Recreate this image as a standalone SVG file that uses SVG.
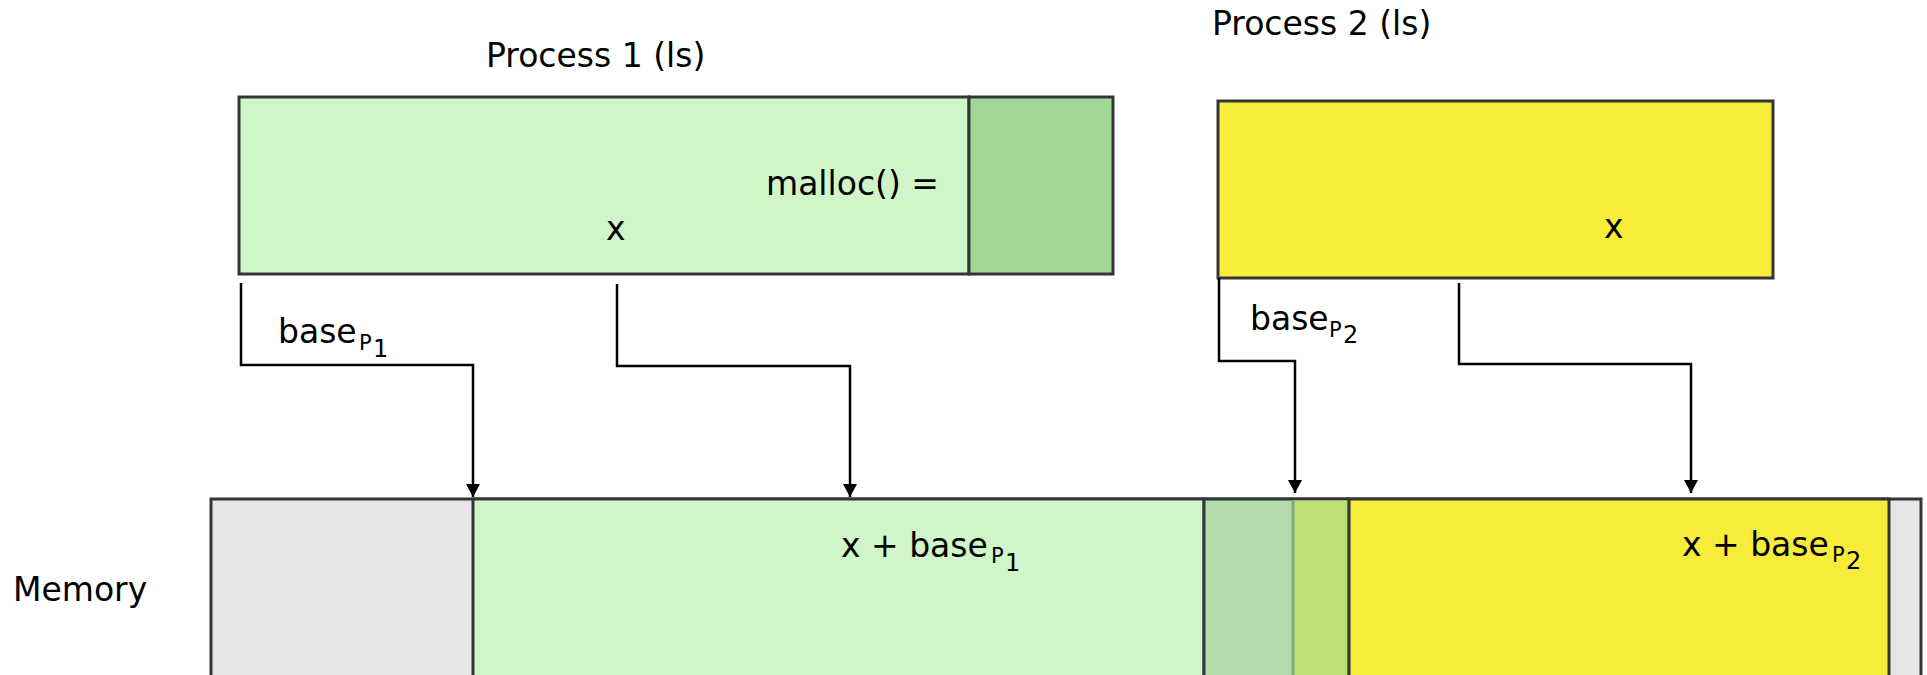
<svg xmlns="http://www.w3.org/2000/svg" width="1927" height="675" viewBox="0 0 1927 675">
<defs>
<style>
.t{font-family:"DejaVu Sans","Liberation Sans",sans-serif;font-size:33px;fill:#000}
.s1{font-size:21px}
.s2{font-size:24px}
.box{stroke:#333639;stroke-width:3}
.conn{fill:none;stroke:#000;stroke-width:2.5}
</style>
<marker id="ad" markerUnits="userSpaceOnUse" markerWidth="16" markerHeight="16" viewBox="0 0 16 16" refX="8" refY="14" orient="0">
<path d="M1 1 L15 1 L8 14 Z" fill="#000"/>
</marker>
</defs>
<rect width="1927" height="675" fill="#fff"/>

<g id="memory">
<rect class="box" x="211" y="499" width="1710" height="200" fill="#e6e6e6"/>
<rect x="473" y="499" width="731" height="200" fill="#d0f5c8" class="box"/>
<rect x="1204" y="499" width="145" height="200" fill="#b5dbab" class="box"/>
<rect x="1293" y="500.5" width="54.5" height="200" fill="#bcdf78"/>
<line x1="1293" y1="500.5" x2="1293" y2="675" stroke="#82a878" stroke-width="3"/>
<rect x="1349" y="499" width="540" height="200" fill="#f7ec3a" class="box"/>
<text class="t" x="13" y="601">Memory</text>
<text class="t" x="841" y="557">x + base<tspan class="s1" x="991" y="563">P</tspan><tspan class="s2" x="1005" y="571">1</tspan></text>
<text class="t" x="1682" y="556">x + base<tspan class="s1" x="1832" y="562">P</tspan><tspan class="s2" x="1846" y="569">2</tspan></text>
</g>

<g id="process1">
<text class="t" x="486" y="67">Process 1 (ls)</text>
<rect class="box" x="239" y="97" width="730" height="177" fill="#d0f5c8"/>
<rect class="box" x="969" y="97" width="144" height="177" fill="#a3d795"/>
<text class="t" x="766" y="195">malloc() =</text>
<text class="t" x="606" y="240">x</text>
</g>

<g id="process2">
<text class="t" x="1212" y="35">Process 2 (ls)</text>
<rect class="box" x="1218" y="101" width="555" height="177" fill="#f7ec3a"/>
<text class="t" x="1604" y="238">x</text>
</g>

<g id="connectors">
<path class="conn" d="M241 283 V365 H473 V497" marker-end="url(#ad)"/>
<path class="conn" d="M617 284 V366 H850 V497" marker-end="url(#ad)"/>
<path class="conn" d="M1219 278 V361 H1295 V493" marker-end="url(#ad)"/>
<path class="conn" d="M1459 283 V364 H1691 V493" marker-end="url(#ad)"/>
<text class="t" x="278" y="343">base<tspan class="s1" x="359" y="350">P</tspan><tspan class="s2" x="373" y="357">1</tspan></text>
<text class="t" x="1250" y="330">base<tspan class="s1" x="1329" y="337">P</tspan><tspan class="s2" x="1343" y="343">2</tspan></text>
</g>
</svg>
